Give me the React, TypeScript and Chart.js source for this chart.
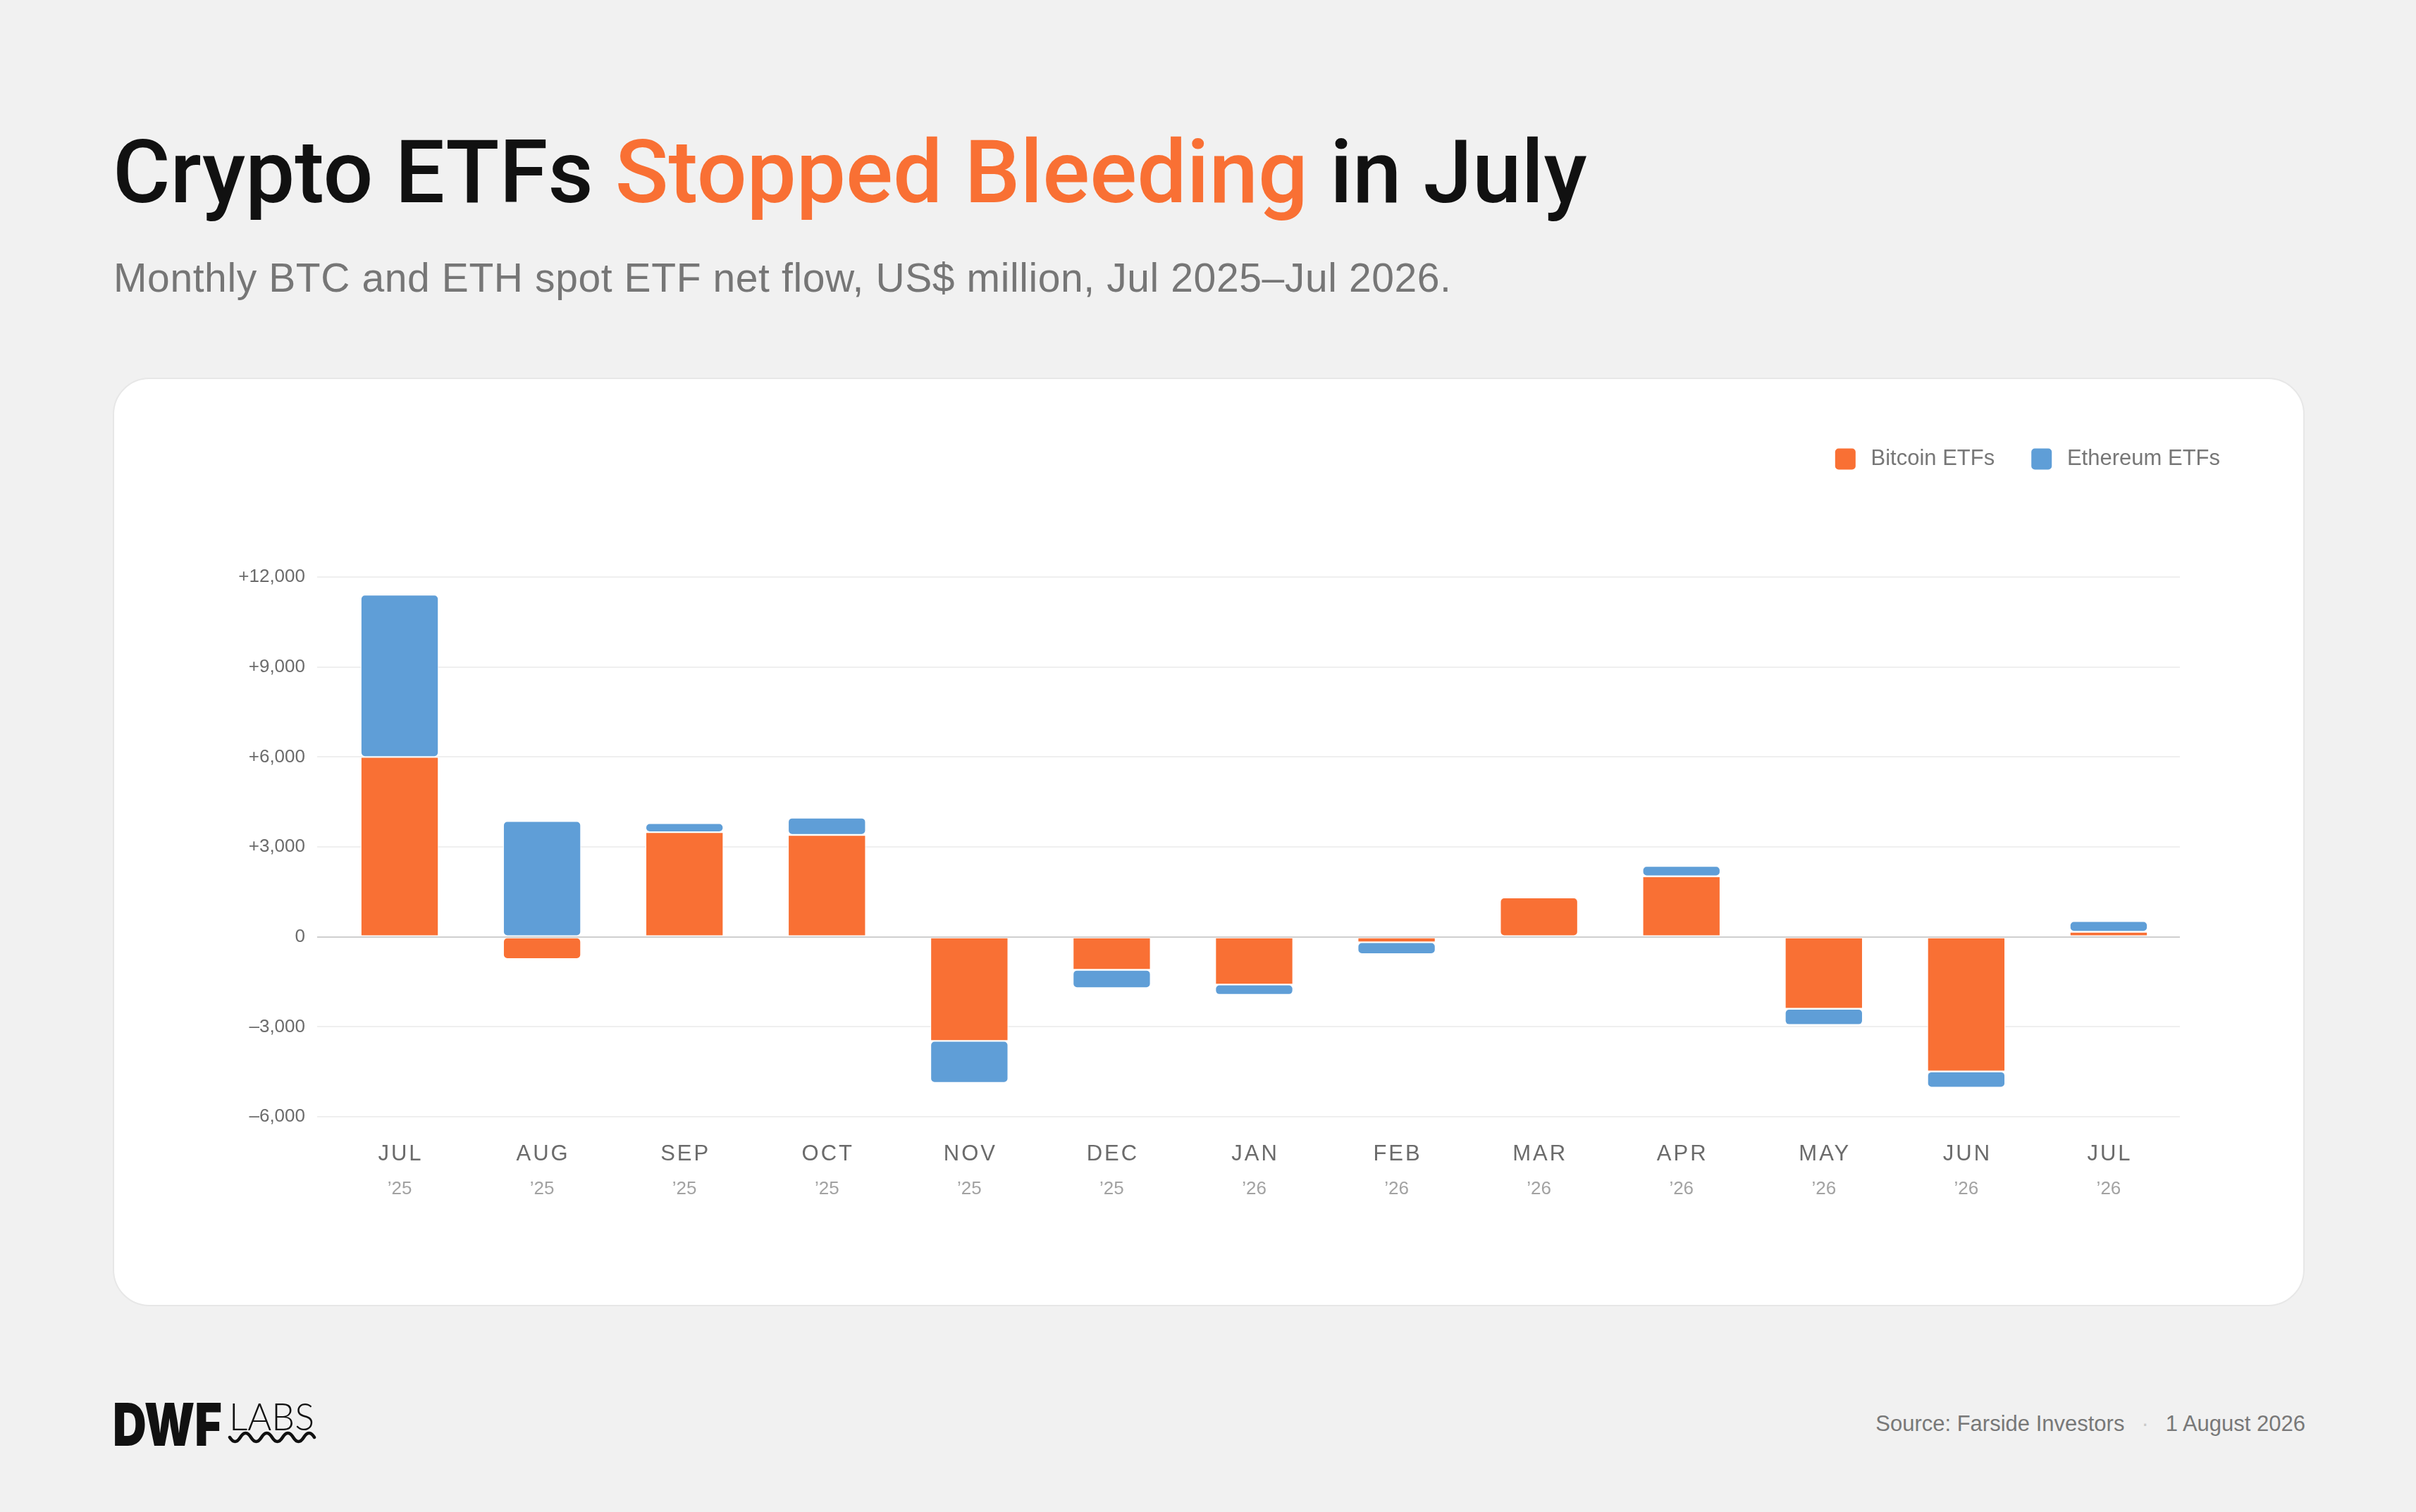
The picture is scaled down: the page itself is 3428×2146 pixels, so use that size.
import { useEffect, useRef } from 'react';
import { Chart, registerables } from 'chart.js';

Chart.register(...registerables);

// monthly net flow, US$ million
const months = ['JUL', 'AUG', 'SEP', 'OCT', 'NOV', 'DEC', 'JAN', 'FEB', 'MAR', 'APR', 'MAY', 'JUN', 'JUL'];
const years = ['’25', '’25', '’25', '’25', '’25', '’25', '’26', '’26', '’26', '’26', '’26', '’26', '’26'];
const btcFlows = [6000, -740, 3490, 3400, -3470, -1100, -1590, -180, 1310, 2020, -2400, -4490, 170];
const ethFlows = [5410, 3860, 300, 575, -1400, -610, -345, -395, -80, 345, -540, -540, 355];
const yTicks = [-6000, -3000, 0, 3000, 6000, 9000, 12000];

const ORANGE = '#F97034';
const BLUE = '#5F9ED7';
const SANS = '"Liberation Sans", Arial, sans-serif';

const fmtTick = (v: number) => {
  if (v === 0) return '0';
  const s = Math.abs(v).toLocaleString('en-US');
  return v > 0 ? '+' + s : '–' + s;
};

// month / year labels under each bar, placed with the x scale
const monthLabels = {
  id: 'monthLabels',
  afterDraw(chart: any) {
    const { ctx, chartArea } = chart;
    const x = chart.scales.x;
    ctx.save();
    ctx.textAlign = 'center';
    ctx.textBaseline = 'middle';
    months.forEach((m, i) => {
      const px = x.getPixelForValue(i);
      ctx.font = `31px ${SANS}`;
      ctx.fillStyle = '#6b6b6b';
      ctx.letterSpacing = '3px';
      ctx.fillText(m, px + 1.5, chartArea.bottom + 53);
      ctx.letterSpacing = '0px';
      ctx.font = `26px ${SANS}`;
      ctx.fillStyle = '#a2a2a2';
      ctx.fillText(years[i], px, chartArea.bottom + 103);
    });
    ctx.restore();
  },
};

function FlowChart() {
  const canvasRef = useRef<HTMLCanvasElement>(null);
  const chartRef = useRef<Chart | null>(null);

  useEffect(() => {
    if (!canvasRef.current) return;
    if (chartRef.current) chartRef.current.destroy();

    chartRef.current = new Chart(canvasRef.current, {
      type: 'bar',
      data: {
        labels: months.map((m, i) => `${m} ${years[i]}`),
        datasets: [
          {
            label: 'Bitcoin ETFs',
            data: btcFlows,
            backgroundColor: ORANGE,
            borderColor: '#ffffff',
            borderWidth: 1.2,
            borderRadius: 6,
            borderSkipped: false,
            categoryPercentage: 1,
            barPercentage: 0.548,
          },
          {
            label: 'Ethereum ETFs',
            data: ethFlows,
            backgroundColor: BLUE,
            borderColor: '#ffffff',
            borderWidth: 1.2,
            borderRadius: 6,
            borderSkipped: false,
            categoryPercentage: 1,
            barPercentage: 0.548,
          },
        ],
      },
      options: {
        responsive: true,
        maintainAspectRatio: false,
        animation: false,
        layout: { padding: { top: 48, right: 68, left: 0, bottom: 0 } },
        plugins: {
          tooltip: { enabled: false },
          legend: {
            position: 'top',
            align: 'end',
            labels: {
              boxWidth: 29,
              boxHeight: 30,
              padding: 52,
              useBorderRadius: true,
              borderRadius: 5,
              color: '#777777',
              font: { family: SANS, size: 31 },
              // a thin leading space widens the gap between swatch and text
              generateLabels: (chart: any) =>
                Chart.defaults.plugins.legend.labels
                  .generateLabels(chart)
                  .map((l: any) => ({ ...l, text: '\u2009' + l.text, lineWidth: 0 })),
            },
          },
        },
        scales: {
          x: {
            stacked: true,
            grid: { display: false },
            border: { display: false },
            ticks: { display: false },
            afterFit: (s: any) => { s.height = 269; },
          },
          y: {
            stacked: true,
            min: -6000,
            max: 12000,
            afterBuildTicks: (s: any) => { s.ticks = yTicks.map(v => ({ value: v })); },
            grid: {
              color: (c: any) => (c.tick && c.tick.value === 0 ? '#cfcfcf' : '#efefef'),
              lineWidth: 2,
              tickLength: 16,
            },
            border: { display: false },
            ticks: {
              padding: 17,
              color: '#6b6b6b',
              font: { family: SANS, size: 26 },
              callback: (v: any) => fmtTick(Number(v)),
            },
            afterFit: (s: any) => { s.width = 306; },
          },
          xTop: {
            type: 'linear',
            position: 'top',
            grid: { display: false },
            border: { display: false },
            ticks: { display: false },
            afterFit: (s: any) => { s.height = 142; },
          },
          yRight: {
            type: 'linear',
            position: 'right',
            grid: { display: false },
            border: { display: false },
            ticks: { display: false },
            afterFit: (s: any) => { s.width = 109; },
          },
        },
      },
      plugins: [monthLabels],
    });

    return () => {
      if (chartRef.current) { chartRef.current.destroy(); chartRef.current = null; }
    };
  }, []);

  return <canvas ref={canvasRef} />;
}

function Logo() {
  return (
    <svg width="300" height="70" viewBox="0 0 300 70" style={{ position: 'absolute', left: 160, top: 1990 }}>
      <text x="0" y="62" fontFamily="Inter, 'Liberation Sans', sans-serif" fontWeight="900" fontSize="84"
        textLength="155" lengthAdjust="spacingAndGlyphs" fill="#111">DWF</text>
      <text x="165" y="40" fontFamily="Lato, 'Liberation Sans', sans-serif" fontWeight="300" fontSize="54"
        textLength="121" lengthAdjust="spacingAndGlyphs" fill="#111">LABS</text>
      <path d="M166 50 q 7.5 12 15 0 t 15 0 t 15 0 t 15 0 t 15 0 t 15 0 t 15 0 t 15 0"
        fill="none" stroke="#111" strokeWidth="4.5" strokeLinecap="round" />
    </svg>
  );
}

export default function App() {
  return (
    <div style={{ position: 'absolute', left: 0, top: 0, width: 3428, height: 2146, background: '#f1f1f1', overflow: 'hidden', fontFamily: SANS }}>
      <div style={{ position: 'absolute', left: 160, top: 182, fontFamily: 'Roboto, sans-serif', fontWeight: 500, fontSize: 125, lineHeight: '125px', color: '#111111', whiteSpace: 'nowrap' }}>
        Crypto ETFs <span style={{ color: ORANGE }}>Stopped Bleeding</span> in July
      </div>
      <div style={{ position: 'absolute', left: 161, top: 366, fontSize: 57, lineHeight: '57px', letterSpacing: '0.6px', color: '#767676', whiteSpace: 'nowrap' }}>
        Monthly BTC and ETH spot ETF net flow, US$ million, Jul 2025–Jul 2026.
      </div>
      <div style={{ position: 'absolute', left: 160, top: 536, width: 3110, height: 1318, background: '#ffffff', borderRadius: 52, border: '2px solid #e7e7e7', boxSizing: 'border-box' }} />
      <div style={{ position: 'absolute', left: 160, top: 536, width: 3110, height: 1318 }}>
        <FlowChart />
      </div>
      <Logo />
      <div style={{ position: 'absolute', right: 3428 - 3271, top: 2005, fontSize: 31, lineHeight: '31px', color: '#787878', whiteSpace: 'nowrap' }}>
        Source: Farside Investors<span style={{ color: '#c9c9c9', margin: '0 24px' }}>·</span>1 August 2026
      </div>
    </div>
  );
}
